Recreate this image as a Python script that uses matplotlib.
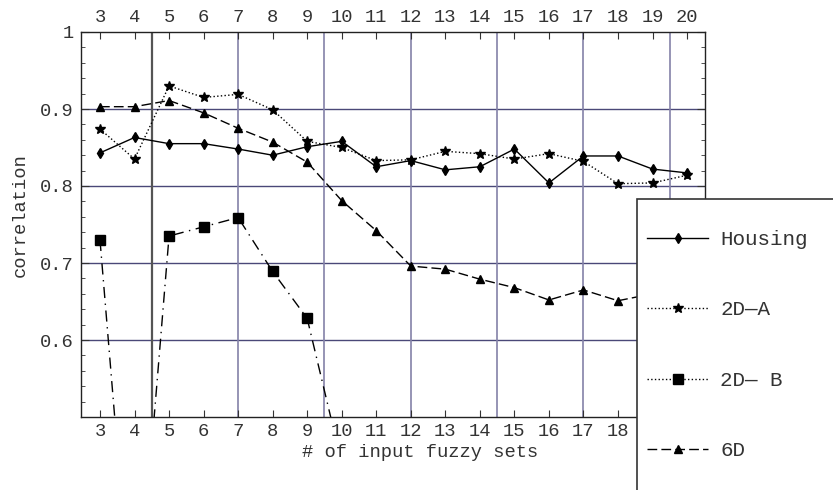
import matplotlib
matplotlib.use("Agg")
import matplotlib.pyplot as plt
from matplotlib.lines import Line2D
from matplotlib.patches import Rectangle

# данные
x_sets = list(range(3, 21))
housing = [0.843, 0.863, 0.855, 0.855, 0.848, 0.840, 0.851, 0.858, 0.825,
           0.833, 0.821, 0.825, 0.848, 0.804, 0.839, 0.839, 0.822, 0.817]
d2_a = [0.874, 0.835, 0.930, 0.915, 0.919, 0.899, 0.858, 0.850, 0.833,
        0.834, 0.845, 0.842, 0.835, 0.842, 0.832, 0.803, 0.804, 0.814]
x_b = list(range(3, 11))
d2_b = [0.730, 0.19, 0.735, 0.747, 0.759, 0.689, 0.628, 0.44]
d6 = [0.903, 0.903, 0.911, 0.895, 0.875, 0.857, 0.831, 0.781, 0.742,
      0.696, 0.692, 0.679, 0.668, 0.652, 0.665, 0.651, 0.660, 0.658]

y_ticks = [0.6, 0.7, 0.8, 0.9, 1.0]
y_tick_labels = ["0.6", "0.7", "0.8", "0.9", "1"]
v_grid = [7, 9.5, 12, 14.5, 17, 19.5]
labels = ["Housing", "2D\u2014A", "2D\u2014 B", "6D"]

plt.rcParams['font.family'] = ['Liberation Mono', 'DejaVu Sans Mono']
plt.rcParams['font.size'] = 13.5
text_color = '#333333'

fig = plt.figure(figsize=(8.33, 4.9), dpi=100)
ax = fig.add_axes([81 / 833, 1 - 417 / 490, 624 / 833, 385 / 490])

# сетка
for y in y_ticks[:-1]:
    ax.axhline(y, color='#4a4878', lw=1.0, zorder=1)
ax.axvline(4.5, color='#555555', lw=1.6, zorder=1)
for x in v_grid:
    ax.axvline(x, color='#8482a8', lw=1.2, zorder=1)

ax.plot(x_sets, housing, color='black', lw=1.0, marker='d', ms=5.5, zorder=3)
ax.plot(x_sets, d2_a, color='black', lw=1.0, ls=':', marker='*', ms=7, zorder=3)
ax.plot(x_b, d2_b, color='black', lw=1.0, ls=(0, (8, 4, 1, 4)), marker='s', ms=6.5, zorder=3)
ax.plot(x_sets, d6, color='black', lw=1.0, ls=(0, (7, 3)), marker='^', ms=5.5, zorder=3)

ax.set_xlim(2.45, 20.52)
ax.set_ylim(0.5, 1.0)
ax.set_xticks(x_sets)
ax.set_xticklabels([str(v) for v in x_sets])
ax.set_yticks(y_ticks)
ax.set_yticklabels(y_tick_labels)
ax.set_yticks([0.5 + 0.02 * i for i in range(26)], minor=True)

ax.tick_params(axis='both', which='both', direction='in', colors=text_color,
               top=True, right=True, labeltop=True)
ax.tick_params(axis='x', which='major', length=5, pad=4)
ax.tick_params(axis='y', which='major', length=6, pad=5)
ax.tick_params(axis='y', which='minor', length=3)
for s in ax.spines.values():
    s.set_linewidth(1.0)
    s.set_color('#222222')

ax.set_xlabel('# of input fuzzy sets', color=text_color)
ax.xaxis.set_label_coords((420 - 81) / 624, -(452 - 417) / 385)
ax.xaxis.label.set_verticalalignment('center')
ax.set_ylabel('correlation', color=text_color)
ax.yaxis.set_label_coords((20 - 81) / 624, 1 - (215 - 32) / 385)
ax.yaxis.label.set_verticalalignment('center')

# легенда поверх графика
box = Rectangle((637 / 833, -0.1), 0.5, 1.1 - 199 / 490, transform=fig.transFigure,
                facecolor='white', edgecolor='#333333', lw=1.2, zorder=10)
fig.patches.append(box)
handles = [
    Line2D([], [], color='black', lw=1.0, marker='d', ms=5.5),
    Line2D([], [], color='black', lw=1.0, ls=':', marker='*', ms=7),
    Line2D([], [], color='black', lw=1.0, ls=':', marker='s', ms=6.5),
    Line2D([], [], color='black', lw=1.0, ls=(0, (7, 3)), marker='^', ms=5.5),
]
leg = fig.legend(handles, labels, loc='upper left', bbox_to_anchor=(647 / 833, 1 - 230 / 490),
                 frameon=False, prop={'size': 15}, handlelength=2.93, handletextpad=0.58,
                 labelspacing=2.47, borderaxespad=0, borderpad=0)
leg.set_zorder(11)
for t in leg.get_texts():
    t.set_color(text_color)

fig.savefig('out.png', dpi=100)
